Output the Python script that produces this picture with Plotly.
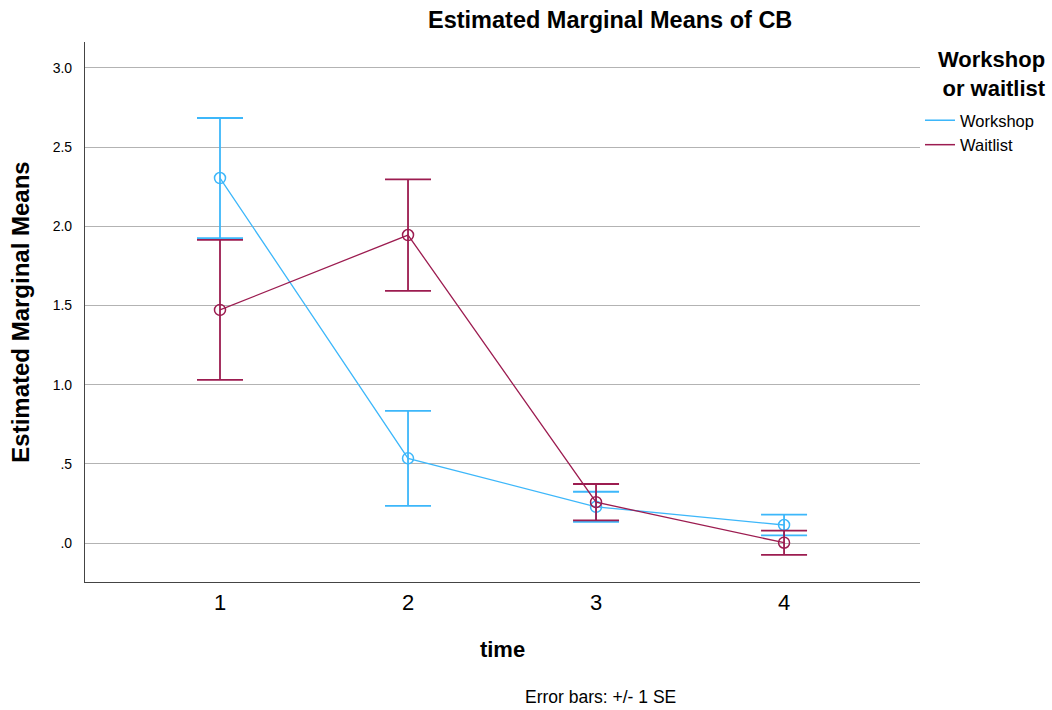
import plotly.graph_objects as go

time_points = [1, 2, 3, 4]
workshop_mean = [2.305, 0.535, 0.229, 0.114]
workshop_se = [0.379, 0.300, 0.095, 0.066]
waitlist_mean = [1.472, 1.945, 0.258, 0.002]
waitlist_se = [0.442, 0.352, 0.115, 0.077]
y_tickvals = [0.0, 0.5, 1.0, 1.5, 2.0, 2.5, 3.0]
y_ticktext = [".0", ".5", "1.0", "1.5", "2.0", "2.5", "3.0"]

blue = "#3DB7FA"
maroon = "#9C1C50"
font = "Arial, Liberation Sans, sans-serif"

L, R, T, B = 85, 920, 42, 582
PW, PH = R - L, B - T

fig = go.Figure()
for name, mean, se, col in [("Workshop", workshop_mean, workshop_se, blue),
                            ("Waitlist", waitlist_mean, waitlist_se, maroon)]:
    fig.add_trace(go.Scatter(
        x=time_points, y=mean, mode="lines+markers", showlegend=False,
        line=dict(color=col, width=1.3),
        marker=dict(symbol="circle-open", size=11, color=col, line=dict(width=1.5)),
        error_y=dict(type="data", array=se, visible=True, color=col,
                     thickness=1.8, width=23),
    ))
for i, (name, col) in enumerate([("Workshop", blue), ("Waitlist", maroon)]):
    fig.add_trace(go.Scatter(x=[None], y=[None], mode="lines", name=name,
                             line=dict(color=col, width=1.5)))

fig.update_layout(
    width=1052, height=710,
    margin=dict(l=L, r=1052 - R, t=T, b=710 - B),
    paper_bgcolor="white", plot_bgcolor="white",
    font=dict(family=font, color="black"),
    showlegend=True,
    legend=dict(
        x=1.0, xanchor="left", y=1 - (103 - T) / PH, yanchor="top",
        font=dict(size=16.5, family=font),
        itemwidth=30, tracegroupgap=0, bgcolor="rgba(0,0,0,0)",
    ),
    xaxis=dict(
        range=[0.282, 4.723], tickvals=time_points,
        ticktext=[str(t) for t in time_points],
        tickfont=dict(size=22), showgrid=False, zeroline=False,
        showline=True, linecolor="#444444", linewidth=1.2, ticks="",
        title=dict(text="<b>time</b>", font=dict(size=22), standoff=28),
    ),
    yaxis=dict(
        range=[-0.246, 3.164], tickvals=y_tickvals, ticktext=y_ticktext,
        tickfont=dict(size=14), showgrid=True, gridcolor="#B3B3B3", gridwidth=1.2,
        zeroline=False, showline=True, linecolor="#444444", linewidth=1.2,
        ticks="", ticklabelstandoff=9,
        title=dict(text="<b>Estimated Marginal Means</b>", font=dict(size=24), standoff=16),
    ),
    annotations=[
        dict(text="<b>Estimated Marginal Means of CB</b>", xref="paper", yref="paper",
             x=(610 - L) / PW, y=1 + (T - 20) / PH, xanchor="center", yanchor="middle",
             showarrow=False, font=dict(size=23.5)),
        dict(text="<b>Workshop<br>or waitlist</b>", xref="paper", yref="paper",
             x=(1048 - L) / PW, y=1 + (T - 74) / PH, xanchor="right", yanchor="middle",
             align="right", showarrow=False, font=dict(size=22)),
        dict(text="Error bars: +/- 1 SE", xref="paper", yref="paper",
             x=(600 - L) / PW, y=-(697 - B) / PH, xanchor="center", yanchor="middle",
             showarrow=False, font=dict(size=17.5)),
    ],
)

fig.write_html("out.html")
